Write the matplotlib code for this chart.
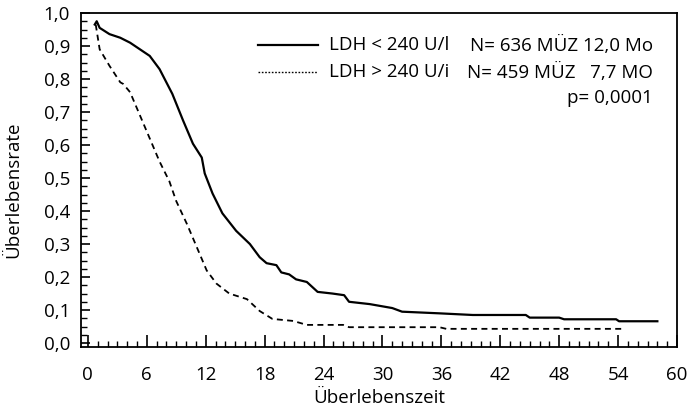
import matplotlib
matplotlib.use("Agg")
import matplotlib.pyplot as plt
from matplotlib.ticker import MultipleLocator, FuncFormatter
from matplotlib.lines import Line2D

plt.rcParams['font.family'] = ['Open Sans', 'DejaVu Sans']

# Solid curve: LDH < 240 U/l
low_month = [0.7, 0.9, 1.2, 2.2, 3.3, 4.3, 5.3, 6.3, 7.3, 8.6, 9.7, 10.7, 11.6, 11.9, 12.7,
             13.7, 15.1, 16.5, 17.5, 18.2, 19.2, 19.7, 20.5, 21.2, 22.3, 23.4, 24.9, 26.1, 26.6,
             28.7, 31.0, 32.0, 35.8, 39.2, 44.6, 45.0, 48.0, 48.5, 53.8, 54.1, 58.0]
low_surv = [0.965, 0.975, 0.955, 0.936, 0.925, 0.91, 0.89, 0.87, 0.83, 0.755, 0.674, 0.604, 0.562,
            0.514, 0.453, 0.393, 0.34, 0.30, 0.26, 0.242, 0.236, 0.214, 0.208, 0.193, 0.185, 0.155,
            0.15, 0.145, 0.125, 0.118, 0.106, 0.095, 0.09, 0.085, 0.085, 0.077, 0.077, 0.072,
            0.072, 0.066, 0.066]

# Dashed curve: LDH > 240 U/l
high_month = [0.8, 1.2, 2.2, 3.3, 3.6, 4.3, 5.3, 6.3, 7.3, 8.3, 9.0, 10.1, 11.1, 12.1, 13.1,
              14.4, 16.2, 17.5, 18.8, 20.9, 22.3, 26.0, 26.6, 35.8, 36.5, 54.4]
high_surv = [0.965, 0.89, 0.84, 0.79, 0.785, 0.76, 0.69, 0.62, 0.55, 0.49, 0.43, 0.36, 0.29,
             0.22, 0.18, 0.15, 0.133, 0.097, 0.073, 0.067, 0.055, 0.055, 0.048, 0.048, 0.043,
             0.043]

x_ticks = [0, 6, 12, 18, 24, 30, 36, 42, 48, 54, 60]
y_ticks = [0.0, 0.1, 0.2, 0.3, 0.4, 0.5, 0.6, 0.7, 0.8, 0.9, 1.0]

legend_rows = [
    ("LDH < 240 U/l", "N= 636 MÜZ 12,0 Mo"),
    ("LDH > 240 U/i", "N= 459 MÜZ   7,7 MO"),
]
p_text = "p= 0,0001"

fig = plt.figure(figsize=(6.92, 4.12), dpi=100)
ax = fig.add_axes([81/692, (412-347)/412, (677-81)/692, (347-13)/412])

ax.plot(low_month, low_surv, color='black', lw=1.6, solid_joinstyle='round')
ax.plot(high_month, high_surv, color='black', lw=1.3, linestyle=(0, (3.3, 2.4)))

ax.set_xlim(-0.7, 59.8)
ax.set_ylim(-0.012, 1.0)
ax.set_xticks(x_ticks)
ax.set_yticks(y_ticks)
ax.xaxis.set_minor_locator(MultipleLocator(1))
ax.yaxis.set_minor_locator(MultipleLocator(0.025))
ax.yaxis.set_major_formatter(FuncFormatter(lambda v, p: f"{v:.1f}".replace('.', ',')))
ax.tick_params(axis='y', which='major', direction='in', length=6.5, width=1.2, labelsize=13.5, pad=8)
ax.tick_params(axis='y', which='minor', direction='in', length=4, width=1.0)
ax.tick_params(axis='x', which='major', direction='in', length=8.5, width=1.2, labelsize=13.5, pad=14)
ax.tick_params(axis='x', which='minor', direction='in', length=4.5, width=1.0)
for s in ax.spines.values():
    s.set_linewidth(1.3)

ax.set_xlabel("Überlebenszeit", fontsize=13.5, labelpad=3)
ax.set_ylabel("Überlebensrate", fontsize=13.5)
ax.yaxis.set_label_coords(-0.099, 0.47)

# legend drawn manually (figure pixel coordinates)
def fp(x, y):
    return (x, 412 - y)

fig.add_artist(Line2D([258/692, 318/692], [(412-45)/412]*2, color='black', lw=1.6))
fig.add_artist(Line2D([258/692, 318/692], [(412-72)/412]*2, color='black', lw=1.0,
                      linestyle=(0, (1.2, 1.2))))
fs = 13.5
row_y = [45, 72]
for (lab, info), yy in zip(legend_rows, row_y):
    ax.annotate(lab, xy=fp(329, yy), xycoords='figure pixels', fontsize=fs, va='center', ha='left')
    ax.annotate(info, xy=fp(653, yy), xycoords='figure pixels', fontsize=fs, va='center', ha='right')
ax.annotate(p_text, xy=fp(653, 98), xycoords='figure pixels', fontsize=fs, va='center', ha='right')

fig.savefig("out.png", dpi=100)
